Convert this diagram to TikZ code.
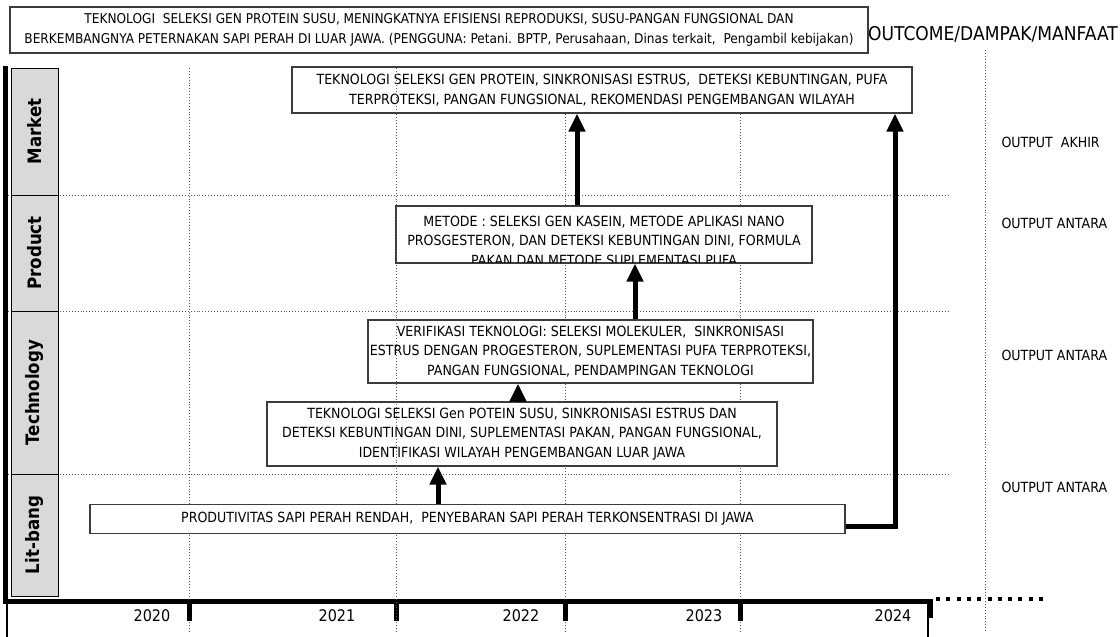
\documentclass[tikz,border=0pt]{standalone}
\usepackage{fontspec}
\setmainfont{DejaVu Sans}[FakeStretch=0.9]
\usetikzlibrary{positioning}
\usetikzlibrary{calc}
\usetikzlibrary{arrows.meta}
\definecolor{lblgray}{RGB}{217,217,217}
\definecolor{boxgray}{RGB}{60,60,60}

\tikzset{
  txtbox/.style={draw=boxgray, line width=1.3pt, fill=white, align=center, inner sep=0pt,
    font=\fontsize{14}{19.5}\selectfont},
  rowlbl/.style={draw=black, line width=1pt, fill=lblgray, rotate=90, inner sep=0pt,
    minimum height=47pt, font=\bfseries\fontsize{18.5}{20}\selectfont},
  gridln/.style={dotted, line width=0.9pt, black!65},
  flow/.style={line width=5pt, -{Triangle[length=18pt,width=16pt]}},
  yearlbl/.style={font=\fontsize{16}{18}\selectfont},
  outlbl/.style={anchor=west, font=\fontsize{14}{16}\selectfont},
}

\begin{document}
\begin{tikzpicture}[x=1pt,y=-1pt]

%---------------------------------------
% Frame
%---------------------------------------
\fill[white] (0,0) rectangle (1120,637);
\useasboundingbox (0,0) rectangle (1120,637);

% Row borders and axis level
\def\yMarket{68}
\def\yProduct{195}
\def\yTech{311}
\def\yLit{474}
\def\yAxis{601}

%====================================================
% Grid (dotted)
%====================================================
\foreach \yy in {\yProduct,\yTech,\yLit}
  \draw[gridln] (8,\yy) -- (950,\yy);
\foreach \xx in {189,565,740}
  \draw[gridln] (\xx,\yMarket) -- (\xx,631);
\draw[gridln] (985,50) -- (985,631);

%====================================================
% Row labels
%====================================================
\node[rowlbl, minimum width=127pt] (market) at (34.5,131.5) {Market};
\node[rowlbl, minimum width=116pt] (product) at (34.5,253) {Product};
\node[rowlbl, minimum width=163pt] (tech) at (34.5,392.5) {Technology};
\node[rowlbl, minimum width=122pt] (litbang) at (34.5,535) {Lit-bang};

%====================================================
% Time axis
%====================================================
\draw[line width=5pt] (5,66) -- (5,\yAxis) -- (930,\yAxis);
\foreach \xx in {189,396,565,740}
  \draw[line width=5pt] (\xx,\yAxis) -- (\xx,621);
\draw[line width=5pt] (930,\yAxis-2) -- (930,618);
\draw[line width=4pt, dash pattern=on 4pt off 6.3pt] (936,599) -- (1046,599);
\draw[line width=1.3pt] (7,\yAxis) -- (7,637);
\draw[line width=1.3pt] (928,\yAxis) -- (928,637);

\node[yearlbl] (y2020) at (152,616) {2020};
\node[yearlbl] (y2021) at (337,616) {2021};
\node[yearlbl] (y2022) at (521,616) {2022};
\node[yearlbl] (y2023) at (704,616) {2023};
\node[yearlbl] (y2024) at (893,616) {2024};

%====================================================
% Boxes
%====================================================
\node[txtbox, minimum width=858pt, minimum height=46pt, font=\fontsize{13.5}{19.5}\selectfont] (outcome) at (439,30)
  {TEKNOLOGI\ \ SELEKSI GEN PROTEIN SUSU, MENINGKATNYA EFISIENSI REPRODUKSI, SUSU-PANGAN FUNGSIONAL DAN\\
   BERKEMBANGNYA PETERNAKAN SAPI PERAH DI LUAR JAWA. (PENGGUNA: Petani. BPTP, Perusahaan, Dinas terkait,\ \ Pengambil kebijakan)};
\node[font=\fontsize{19}{20}\selectfont] (outcomelbl) at (993,34) {OUTCOME/DAMPAK/MANFAAT};

\node[txtbox, minimum width=620pt, minimum height=46pt] (mkt) at (602,90)
  {TEKNOLOGI SELEKSI GEN PROTEIN, SINKRONISASI ESTRUS,\ \ DETEKSI KEBUNTINGAN, PUFA\\
   TERPROTEKSI, PANGAN FUNGSIONAL, REKOMENDASI PENGEMBANGAN WILAYAH};

% product box: last line cut by the border
\node[txtbox, minimum width=416pt, minimum height=57pt] (prod) at (604,234.5) {};
\begin{scope}
  \clip (prod.south west) rectangle (prod.north east);
  \node[txtbox, draw=none, fill=none, anchor=north] (prodtxt) at ([yshift=-10pt]prod.north)
    {METODE : SELEKSI GEN KASEIN, METODE APLIKASI NANO\\
     PROSGESTERON, DAN DETEKSI KEBUNTINGAN DINI, FORMULA\\
     PAKAN DAN METODE SUPLEMENTASI PUFA};
\end{scope}
\draw[boxgray, line width=1.3pt] (prod.south west) rectangle (prod.north east);

\node[txtbox, minimum width=445pt, minimum height=63pt] (verif) at (590.5,351.5)
  {VERIFIKASI TEKNOLOGI: SELEKSI MOLEKULER,\ \ SINKRONISASI\\
   ESTRUS DENGAN PROGESTERON, SUPLEMENTASI PUFA TERPROTEKSI,\\
   PANGAN FUNGSIONAL, PENDAMPINGAN TEKNOLOGI};

\node[txtbox, minimum width=510pt, minimum height=64pt] (teknologi) at (522,434)
  {TEKNOLOGI SELEKSI Gen POTEIN SUSU, SINKRONISASI ESTRUS DAN\\
   DETEKSI KEBUNTINGAN DINI, SUPLEMENTASI PAKAN, PANGAN FUNGSIONAL,\\
   IDENTIFIKASI WILAYAH PENGEMBANGAN LUAR JAWA};

% this grid line runs over the upper boxes
\draw[gridln] (396,\yMarket) -- (396,631);

\node[txtbox, minimum width=755pt, minimum height=29pt] (masalah) at (467.5,519)
  {PRODUTIVITAS SAPI PERAH RENDAH,\ \ PENYEBARAN SAPI PERAH TERKONSENTRASI DI JAWA};

%====================================================
% Flow arrows
%====================================================
\coordinate (a1) at (438,0);
\coordinate (a2) at (518,0);
\coordinate (a3) at (635,0);
\coordinate (a4) at (577,0);
\coordinate (a5) at (895,0);
\draw[flow] (a1 |- masalah.north) -- (a1 |- teknologi.south);
\draw[flow] (a2 |- teknologi.north) -- (a2 |- verif.south);
\draw[flow] (a3 |- verif.north) -- (a3 |- prod.south);
\draw[flow] (a4 |- prod.north) -- (a4 |- mkt.south);
\draw[flow] ([yshift=-7pt]masalah.east) -| (a5 |- mkt.south);

%====================================================
% Output levels
%====================================================
\node[outlbl] (out4) at (998,142) {OUTPUT\ \ AKHIR};
\node[outlbl] (out3) at (998,223) {OUTPUT ANTARA};
\node[outlbl] (out2) at (998,355) {OUTPUT ANTARA};
\node[outlbl] (out1) at (998,487) {OUTPUT ANTARA};

\end{tikzpicture}
\end{document}
